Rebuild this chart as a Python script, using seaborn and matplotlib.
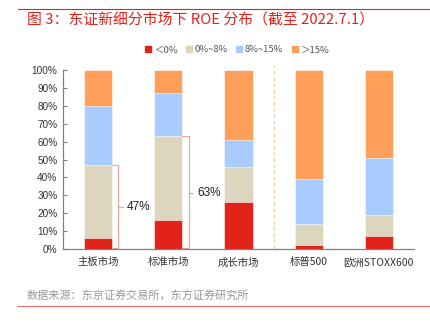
import matplotlib
matplotlib.use("Agg")
import matplotlib.pyplot as plt
import seaborn as sns
import pandas as pd
import numpy as np
from matplotlib.lines import Line2D

sns.set_theme(style="white")
plt.rcParams['font.family'] = ['Noto Sans CJK SC', 'DejaVu Sans']

categories = ["主板市场", "标准市场", "成长市场", "标普500", "欧洲STOXX600"]
series_names = ["＜0%", "0%~8%", "8%~15%", "＞15%"]
neg = [6, 16, 26, 2, 7]
low = [41, 47, 20, 12, 12]
mid = [33, 24, 15, 25, 32]
high = [20, 13, 39, 61, 49]
bracket_labels = ["47%", "63%"]
yticks = [0, 10, 20, 30, 40, 50, 60, 70, 80, 90, 100]

colors = ["#E2231A", "#DED5BF", "#A9CCFF", "#FF9F5A"]

df = pd.DataFrame({"cat": categories, "neg": neg, "low": low, "mid": mid, "high": high})
df["c1"] = df["neg"]
df["c2"] = df["c1"] + df["low"]
df["c3"] = df["c2"] + df["mid"]
df["c4"] = df["c3"] + df["high"]

fig = plt.figure(figsize=(4.30, 3.23), dpi=100)
ax = fig.add_axes([63/430, 1-249/323, 351/430, 179/323])

for col, color in zip(["c4", "c3", "c2", "c1"], colors[::-1]):
    sns.barplot(data=df, x="cat", y=col, color=color, width=0.4, ax=ax,
                saturation=1, edgecolor="white", linewidth=0.4)

ax.set_xlim(-0.5, 4.5)
ax.set_ylim(0, 100)
ax.set_yticks(yticks)
ax.set_yticklabels([f"{v}%" for v in yticks], family=["Liberation Sans", "DejaVu Sans"], fontsize=7.2, color="#333333")
ax.set_xticks(range(len(categories)))
ax.set_xticklabels(categories, fontsize=7.5, color="#333333")
ax.set_xlabel("")
ax.set_ylabel("")
ax.set_xticks(np.arange(0.5, 5, 1), minor=True)
ax.tick_params(axis="x", which="major", length=0, pad=6)
ax.tick_params(axis="x", which="minor", direction="in", length=3, color="#808080", width=0.8)
ax.tick_params(axis="y", direction="in", length=3, color="#808080", width=0.8, left=True, pad=4)
for s in ["top", "right"]:
    ax.spines[s].set_visible(False)
for s in ["left", "bottom"]:
    ax.spines[s].set_color("#808080")
    ax.spines[s].set_linewidth(0.9)

# dashed separator
ax.plot([2.5, 2.5], [0, 103], ls=(0, (3, 2)), color="#F0CFA8", lw=0.9, clip_on=False)

# brackets
bc = "#F4A3A3"
for i, (top, lab) in enumerate(zip(df["c2"][:2], bracket_labels)):
    x0 = i + 0.2
    x1 = i + 0.29
    ax.plot([x0, x1, x1, x0], [top, top, 0.4, 0.4], color=bc, lw=0.9, clip_on=False)
    ax.plot([x1, x1 + 0.06], [top/2, top/2], color=bc, lw=0.9, clip_on=False)
    ax.text(x1 + 0.12, top/2, lab, fontsize=8.5, va="center", ha="left", color="#222222",
            family=["Liberation Sans", "DejaVu Sans"])

# legend
handles = [Line2D([], [], marker="s", ls="", markersize=4.2, markerfacecolor=c, markeredgecolor=c) for c in colors]
fig.legend(handles, series_names, loc="center", bbox_to_anchor=(236/430, 1-50/323), ncol=4,
           frameon=False, fontsize=6.8, handletextpad=0.0, handlelength=1.2,
           columnspacing=0.6, labelcolor="#555555")

# title and lines
fig.add_artist(Line2D([18/430, 1.0], [1-9/323, 1-9/323], color="#E2231A", lw=0.8))
fig.text(27/430, 1-20/323, "图 3：东证新细分市场下 ROE 分布（截至 2022.7.1）", fontsize=10.7,
         color="#E2231A", va="center", ha="left", weight="medium")
fig.text(27/430, 1-296/323, "数据来源：东京证券交易所，东方证券研究所", fontsize=8,
         color="#999999", va="center", ha="left")
fig.add_artist(Line2D([17/430, 1.0], [1-306/323, 1-306/323], color="#E87070", lw=0.8))

fig.savefig("out.png", dpi=100)
